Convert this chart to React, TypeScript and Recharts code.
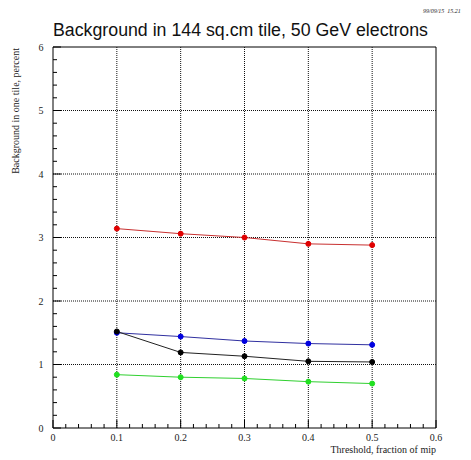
import { LineChart, Line, XAxis, YAxis, ReferenceLine, ReferenceArea } from 'recharts';

// threshold (fraction of mip) and background (%) per curve
const thresholds = [0.1, 0.2, 0.3, 0.4, 0.5];
const redBg = [3.14, 3.06, 3.0, 2.9, 2.88];
const blueBg = [1.5, 1.44, 1.37, 1.33, 1.31];
const blackBg = [1.52, 1.19, 1.13, 1.05, 1.04];
const greenBg = [0.84, 0.8, 0.78, 0.73, 0.7];

const xMajor = [0, 0.1, 0.2, 0.3, 0.4, 0.5, 0.6];
const yMajor = [0, 1, 2, 3, 4, 5, 6];
const xGrid = [0.1, 0.2, 0.3, 0.4, 0.5];
const yGrid = [1, 2, 3, 4, 5];

// minor ticks: 5 subdivisions between majors
const xTicks = Array.from({ length: 31 }, (_, i) => Math.round(i * 2) / 100);
const yTicks = Array.from({ length: 31 }, (_, i) => Math.round(i * 2) / 10);

const chartData = thresholds.map((x, i) => ({
  x,
  red: redBg[i],
  blue: blueBg[i],
  black: blackBg[i],
  green: greenBg[i],
}));

const isMajor = (v: number, list: number[]) => list.some((m) => Math.abs(m - v) < 1e-6);
const serif = '"Liberation Serif", "DejaVu Serif", serif';

const XTick = (props: any) => {
  const { x, y, payload } = props;
  const major = isMajor(payload.value, xMajor);
  return (
    <g>
      <line x1={x} x2={x} y1={y} y2={y - (major ? 8 : 4)} stroke="#000" />
      {major && (
        <text x={x} y={y + 13} textAnchor="middle" fontSize={10} fontFamily={serif} fill="#222">
          {String(Math.round(payload.value * 10) / 10)}
        </text>
      )}
    </g>
  );
};

const YTick = (props: any) => {
  const { x, y, payload } = props;
  const major = isMajor(payload.value, yMajor);
  return (
    <g>
      <line x1={x} x2={x + (major ? 8 : 4)} y1={y} y2={y} stroke="#000" />
      {major && (
        <text x={x - 12} y={y + 3.5} textAnchor="middle" fontSize={10} fontFamily={serif} fill="#222">
          {String(Math.round(payload.value))}
        </text>
      )}
    </g>
  );
};

const App = () => {
  return (
    <div style={{ position: 'absolute', left: 0, top: 0, width: 471, height: 460, background: '#fff' }}>
      <LineChart
        width={471}
        height={460}
        data={chartData}
        margin={{ top: 47, right: 35, left: 0, bottom: 0 }}
      >
        <XAxis
          type="number"
          dataKey="x"
          domain={[0, 0.6]}
          ticks={xTicks}
          interval={0}
          height={32}
          tickSize={0}
          tickMargin={0}
          axisLine={false}
          tickLine={false}
          tick={<XTick />}
        />
        <YAxis
          type="number"
          domain={[0, 6]}
          ticks={yTicks}
          interval={0}
          width={53}
          tickSize={0}
          tickMargin={0}
          axisLine={false}
          tickLine={false}
          tick={<YTick />}
        />
        {xGrid.map((v) => (
          <ReferenceLine key={'gx' + v} x={v} stroke="#111" strokeDasharray="1 1" />
        ))}
        {yGrid.map((v) => (
          <ReferenceLine key={'gy' + v} y={v} stroke="#111" strokeDasharray="1 1" />
        ))}
        <ReferenceArea x1={0} x2={0.6} y1={0} y2={6} fill="none" stroke="#000" strokeWidth={1} />
        <Line dataKey="red" stroke="#c83030" strokeWidth={1} dot={{ r: 2.5, fill: '#e00000', stroke: '#e00000' }} isAnimationActive={false} />
        <Line dataKey="green" stroke="#30d030" strokeWidth={1} dot={{ r: 2.5, fill: '#20e020', stroke: '#20e020' }} isAnimationActive={false} />
        <Line dataKey="blue" stroke="#3030a0" strokeWidth={1} dot={{ r: 2.5, fill: '#0000e0', stroke: '#0000e0' }} isAnimationActive={false} />
        <Line dataKey="black" stroke="#222" strokeWidth={1} dot={{ r: 2.5, fill: '#000', stroke: '#000' }} isAnimationActive={false} />
      </LineChart>
      <svg width={471} height={460} style={{ position: 'absolute', left: 0, top: 0, pointerEvents: 'none' }}>
        <text x={423} y={13} fontSize={6} fontStyle="italic" fontFamily={serif} fill="#222">
          99/09/15&#160;&#160;15.21
        </text>
        <text x={53} y={36} fontSize={18} fontFamily='"Liberation Sans", Arial, sans-serif' fill="#111" textLength={375} lengthAdjust="spacingAndGlyphs">
          Background in 144 sq.cm tile, 50 GeV electrons
        </text>
        <text x={19} y={48} transform="rotate(-90 19 48)" textAnchor="end" fontSize={10} fontFamily={serif} fill="#222">
          Background in one tile, percent
        </text>
        <text x={436} y={453} textAnchor="end" fontSize={10} fontFamily={serif} fill="#222">
          Threshold, fraction of mip
        </text>
      </svg>
    </div>
  );
};

export default App;
